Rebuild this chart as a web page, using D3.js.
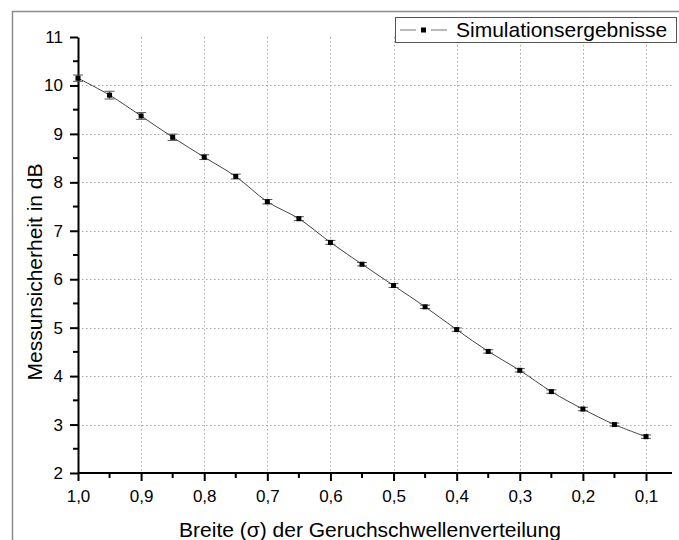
<!DOCTYPE html>
<html>
<head>
<meta charset="utf-8">
<script src="https://cdn.jsdelivr.net/npm/d3@7"></script>
<style>
  body { margin: 0; background: #fff; }
  svg { display: block; font-family: "Liberation Sans", Arial, sans-serif; }
</style>
</head>
<body>
<div id="chart"></div>
<script>
// data
const breite = [1.0, 0.95, 0.9, 0.85, 0.8, 0.75, 0.7, 0.65, 0.6, 0.55, 0.5,
  0.45, 0.4, 0.35, 0.3, 0.25, 0.2, 0.15, 0.1];
const unsicherheit = [10.15, 9.8, 9.37, 8.93, 8.52, 8.12, 7.6, 7.25, 6.76, 6.31, 5.87,
  5.43, 4.96, 4.51, 4.12, 3.68, 3.32, 3.0, 2.75];
const fehler = [0.065, 0.08, 0.07, 0.065, 0.05, 0.05, 0.045, 0.04, 0.04, 0.035, 0.04,
  0.035, 0.035, 0.035, 0.035, 0.035, 0.035, 0.03, 0.035];
const xTicks = [1.0, 0.9, 0.8, 0.7, 0.6, 0.5, 0.4, 0.3, 0.2, 0.1];
const xMinor = [0.95, 0.85, 0.75, 0.65, 0.55, 0.45, 0.35, 0.25, 0.15];
const yTicks = [2, 3, 4, 5, 6, 7, 8, 9, 10, 11];
const yMinor = [2.5, 3.5, 4.5, 5.5, 6.5, 7.5, 8.5, 9.5, 10.5];
const legendLabel = 'Simulationsergebnisse';

const width = 679, height = 540;
const fmt = (d) => d3.format('.1f')(d).replace('.', ',');

const svg = d3.select('#chart').append('svg')
  .attr('width', width)
  .attr('height', height);

// outer frame
svg.append('rect')
  .attr('x', 12.5).attr('y', 11.5)
  .attr('width', 700).attr('height', 600)
  .attr('fill', 'none')
  .attr('stroke', '#8c8c8c')
  .attr('stroke-width', 1.5);

const x = d3.scaleLinear().domain([1.0, 0.1]).range([78, 646]);
const y = d3.scaleLinear().domain([2, 11]).range([473, 37]);
const xEnd = 672;

// grid
const grid = svg.append('g')
  .attr('stroke', '#a8a8a8')
  .attr('stroke-width', 1)
  .attr('stroke-dasharray', '1.5,2.5');
grid.selectAll('line.v')
  .data(xTicks.slice(1))
  .join('line')
  .attr('x1', (d) => Math.round(x(d)) + 0.5)
  .attr('x2', (d) => Math.round(x(d)) + 0.5)
  .attr('y1', y(11)).attr('y2', y(2));
grid.selectAll('line.h')
  .data(yTicks.slice(1, -1))
  .join('line')
  .attr('x1', x(1.0)).attr('x2', xEnd)
  .attr('y1', (d) => Math.round(y(d)) + 0.5)
  .attr('y2', (d) => Math.round(y(d)) + 0.5);

// axes
const xAxis = svg.append('g')
  .attr('transform', `translate(0,${y(2)})`)
  .call(d3.axisBottom(x).tickValues(xTicks).tickFormat(fmt).tickSize(8).tickSizeOuter(0));
xAxis.select('.domain').attr('d', `M${x(1.0)},0H${xEnd}`);
xAxis.selectAll('.tick line').attr('stroke-width', 2);
xAxis.selectAll('.tick text')
  .attr('font-size', 17)
  .attr('font-family', '"Liberation Sans", Arial, sans-serif')
  .attr('fill', '#000')
  .attr('dy', '1.05em');
xAxis.select('.domain').attr('stroke-width', 2);
xAxis.selectAll('line.minor')
  .data(xMinor)
  .join('line')
  .attr('class', 'minor')
  .attr('stroke', '#000').attr('stroke-width', 2)
  .attr('x1', (d) => x(d)).attr('x2', (d) => x(d))
  .attr('y1', 0).attr('y2', 5);

const yAxis = svg.append('g')
  .attr('transform', `translate(${x(1.0)},0)`)
  .call(d3.axisLeft(y).tickValues(yTicks).tickSize(8).tickSizeOuter(0));
yAxis.selectAll('.tick line').attr('stroke-width', 2);
yAxis.select('.domain').attr('stroke-width', 2);
yAxis.selectAll('.tick text')
  .attr('font-size', 17)
  .attr('font-family', '"Liberation Sans", Arial, sans-serif')
  .attr('fill', '#000')
  .attr('x', -15);
yAxis.selectAll('line.minor')
  .data(yMinor)
  .join('line')
  .attr('class', 'minor')
  .attr('stroke', '#000').attr('stroke-width', 2)
  .attr('x1', 0).attr('x2', -5)
  .attr('y1', (d) => y(d)).attr('y2', (d) => y(d));

// axis titles
svg.append('text')
  .attr('x', 370).attr('y', 537)
  .attr('text-anchor', 'middle')
  .attr('font-size', 21)
  .text('Breite (σ) der Geruchschwellenverteilung');

svg.append('text')
  .attr('transform', 'translate(42,272) rotate(-90)')
  .attr('text-anchor', 'middle')
  .attr('font-size', 21)
  .text('Messunsicherheit in dB');

// data
const pts = breite.map((b, i) => ({ b, v: unsicherheit[i], e: fehler[i] }));

const line = d3.line()
  .x((d) => x(d.b))
  .y((d) => y(d.v))
  .curve(d3.curveCatmullRom);

svg.append('path')
  .datum(pts)
  .attr('d', line)
  .attr('fill', 'none')
  .attr('stroke', '#444')
  .attr('stroke-width', 1);

const err = svg.append('g').attr('stroke', '#555').attr('stroke-width', 1);
err.selectAll('line.bar')
  .data(pts)
  .join('line')
  .attr('x1', (d) => x(d.b)).attr('x2', (d) => x(d.b))
  .attr('y1', (d) => y(d.v - d.e)).attr('y2', (d) => y(d.v + d.e));
err.selectAll('line.top')
  .data(pts)
  .join('line')
  .attr('class', 'top')
  .attr('x1', (d) => x(d.b) - 5).attr('x2', (d) => x(d.b) + 5)
  .attr('y1', (d) => y(d.v + d.e)).attr('y2', (d) => y(d.v + d.e));
err.selectAll('line.bot')
  .data(pts)
  .join('line')
  .attr('class', 'bot')
  .attr('x1', (d) => x(d.b) - 5).attr('x2', (d) => x(d.b) + 5)
  .attr('y1', (d) => y(d.v - d.e)).attr('y2', (d) => y(d.v - d.e));

svg.append('g')
  .selectAll('rect')
  .data(pts)
  .join('rect')
  .attr('x', (d) => x(d.b) - 2.5)
  .attr('y', (d) => y(d.v) - 2.5)
  .attr('width', 5).attr('height', 5)
  .attr('fill', '#000');

// legend
const lg = svg.append('g');
lg.append('rect')
  .attr('x', 395.5).attr('y', 17.5)
  .attr('width', 281).attr('height', 25)
  .attr('fill', '#fff')
  .attr('stroke', '#555')
  .attr('stroke-width', 1);
lg.append('line')
  .attr('x1', 400).attr('x2', 416).attr('y1', 30).attr('y2', 30)
  .attr('stroke', '#777').attr('stroke-width', 1);
lg.append('line')
  .attr('x1', 431).attr('x2', 447).attr('y1', 30).attr('y2', 30)
  .attr('stroke', '#777').attr('stroke-width', 1);
lg.append('rect')
  .attr('x', 421).attr('y', 27.5).attr('width', 5).attr('height', 5)
  .attr('fill', '#000');
lg.append('text')
  .attr('x', 456).attr('y', 37)
  .attr('font-size', 21)
  .text(legendLabel);
</script>
</body>
</html>
